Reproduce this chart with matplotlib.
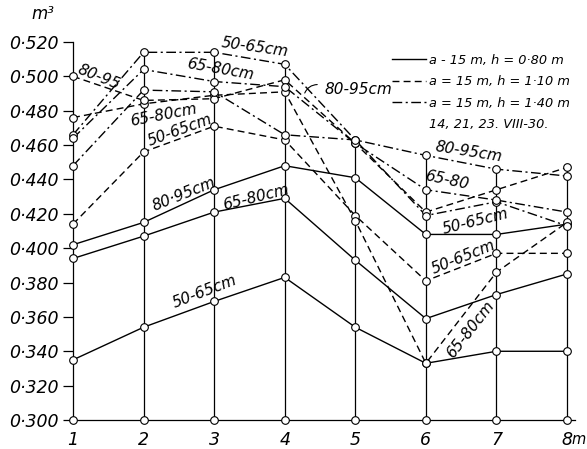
import matplotlib.pyplot as plt
from matplotlib.lines import Line2D
from matplotlib.ticker import FixedLocator

plt.rcParams['font.family'] = ['DejaVu Sans']
plt.rcParams['font.style'] = 'italic'

# stations along the section, m
stations = [1, 2, 3, 4, 5, 6, 7, 8]
station_labels = ['1', '2', '3', '4', '5', '6', '7', '8']
y_ticks = [0.300, 0.320, 0.340, 0.360, 0.380, 0.400, 0.420,
           0.440, 0.460, 0.480, 0.500, 0.520]

# h = 0.80 m (solid)
h080_50_65 = [0.335, 0.354, 0.369, 0.383, 0.354, 0.333, 0.340, 0.340]
h080_65_80 = [0.394, 0.407, 0.421, 0.429, 0.393, 0.359, 0.373, 0.385]
h080_80_95 = [0.402, 0.415, 0.434, 0.448, 0.441, 0.408, 0.408, 0.414]

# h = 1.10 m (dashed)
h110_50_65 = [0.414, 0.456, 0.471, 0.463, 0.419, 0.381, 0.397, 0.397]
h110_65_80 = [0.476, 0.484, 0.489, 0.491, 0.416, 0.333, 0.386, 0.415]
h110_80_95 = [0.500, 0.486, 0.487, 0.498, 0.461, 0.421, 0.434, 0.447]

# h = 1.40 m (dash-dot)
h140_50_65 = [0.466, 0.514, 0.514, 0.507, 0.463, 0.419, 0.427, 0.413]
h140_65_80 = [0.464, 0.504, 0.497, 0.494, 0.461, 0.434, 0.428, 0.421]
h140_80_95 = [0.448, 0.492, 0.491, 0.466, 0.463, 0.454, 0.446, 0.442]

legend_labels = ['a - 15 m, h = 0·80 m',
                 'a = 15 m, h = 1·10 m',
                 'a = 15 m, h = 1·40 m',
                 '14, 21, 23. VIII-30.']

solid = '-'
dashed = (0, (5, 3))
dashdot = (0, (7, 2.5, 1.5, 2.5))

series = [
    (h080_50_65, solid), (h080_65_80, solid), (h080_80_95, solid),
    (h110_50_65, dashed), (h110_65_80, dashed), (h110_80_95, dashed),
    (h140_50_65, dashdot), (h140_65_80, dashdot), (h140_80_95, dashdot),
]

# curve labels: text, x, y, rotation
curve_labels = [
    ('50-65cm', 3.58, 0.5171, -8),
    ('65-80cm', 3.08, 0.5043, -10),
    ('80-95', 1.37, 0.4996, -22),
    ('65-80cm', 2.28, 0.4775, 11),
    ('50-65cm', 2.52, 0.4688, 20),
    ('80·95cm', 2.57, 0.4315, 22),
    ('65-80cm', 3.59, 0.4298, 14),
    ('50-65cm', 2.87, 0.3745, 21),
    ('80-95cm', 5.04, 0.4926, 0),
    ('80-95cm', 6.60, 0.4560, -9),
    ('65-80', 6.30, 0.4397, -12),
    ('50-65cm', 6.70, 0.4158, 14),
    ('50-65cm', 6.53, 0.3949, 22),
    ('65-80cm', 6.63, 0.3524, 52),
]

fig = plt.figure(figsize=(5.87, 4.49), dpi=100)
ax = fig.add_axes([0.10633, 0.02632, 0.88966, 0.9184])
ax.set_xlim(0.85, 8.25)
ax.set_ylim(0.290, 0.530)
ax.patch.set_visible(False)

for s in ('top', 'right'):
    ax.spines[s].set_visible(False)
ax.spines['left'].set_position(('data', 1))
ax.spines['left'].set_bounds(0.300, 0.520)
ax.spines['bottom'].set_position(('data', 0.300))
ax.spines['bottom'].set_bounds(1, 8.12)
for s in ('left', 'bottom'):
    ax.spines[s].set_linewidth(0.9)

ax.yaxis.set_major_locator(FixedLocator(y_ticks))
ax.set_yticklabels([('%.3f' % v).replace('.', '·') for v in y_ticks])
ax.tick_params(axis='y', direction='out', length=7, width=0.9,
               labelsize=12.5, pad=3)
ax.set_xticks(stations)
ax.set_xticklabels(station_labels)
ax.tick_params(axis='x', length=0, labelsize=12.5, pad=8)
# unit after the last station number, on the same baseline
ax.text(8.06, 0.2862, 'm', fontsize=10.5, va='baseline', ha='left',
        clip_on=False)

# m³ unit above the axis
ax.text(0.57, 0.5365, 'm³', fontsize=12, ha='center', va='center',
        clip_on=False)

# station verticals up to the highest reading
tops = [max(vals[i] for vals, _ in series) for i in range(len(stations))]
ax.vlines(stations[1:], 0.300, tops[1:], color='k', lw=0.9, zorder=1)

for vals, ls in series:
    ax.plot(stations, vals, color='k', lw=1.0, linestyle=ls, zorder=2)

for vals, _ in series:
    ax.plot(stations, vals, ls='none', marker='o', ms=5.5, mfc='white',
            mec='k', mew=0.8, zorder=4, clip_on=False)
ax.plot(stations, [0.300] * len(stations), ls='none', marker='o', ms=5.5,
        mfc='white', mec='k', mew=0.8, zorder=4, clip_on=False)

for text, x, y, rot in curve_labels:
    ax.text(x, y, text, fontsize=11, rotation=rot, ha='center',
            va='center', rotation_mode='anchor', zorder=5)

# leader for the 80-95cm label between stations 4 and 5
ax.annotate('', xy=(4.27, 0.4888), xytext=(4.50, 0.4952),
            arrowprops=dict(arrowstyle='-', lw=0.8,
                            connectionstyle='arc3,rad=0.4'))

handles = [Line2D([], [], color='k', lw=1.0, ls=solid),
           Line2D([], [], color='k', lw=1.0, ls=dashed),
           Line2D([], [], color='k', lw=1.0, ls=dashdot),
           Line2D([], [], color='k', lw=1.0, alpha=0)]
ax.legend(handles, legend_labels, loc='upper left',
          bbox_to_anchor=(392 / 587, 1 - 54 / 449),
          bbox_transform=fig.transFigure, frameon=False,
          fontsize=9.3, handlelength=2.6, handletextpad=0.25,
          labelspacing=0.65, borderpad=0, borderaxespad=0)

fig.savefig('out.png', dpi=100)
